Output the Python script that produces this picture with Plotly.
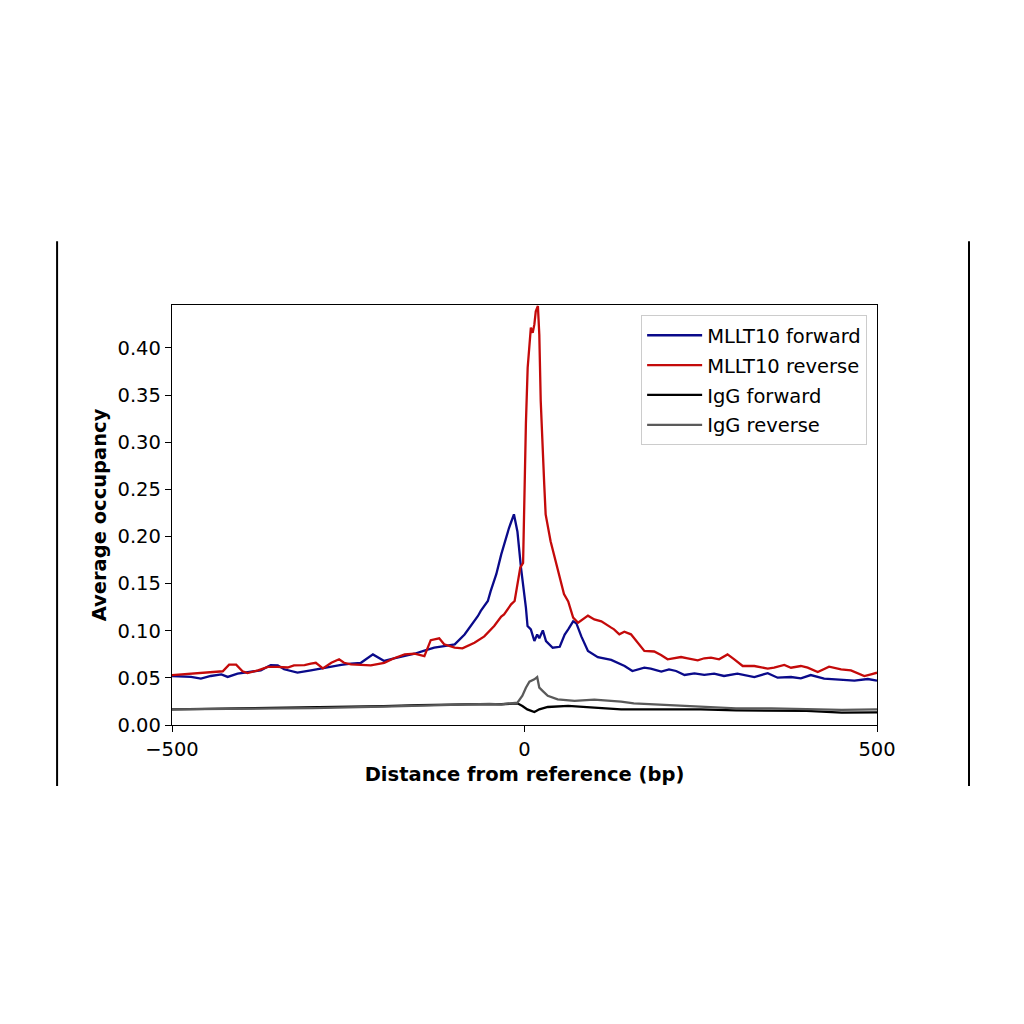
import plotly.graph_objects as go

#-------------------------------------------------------------------------------
# values (distance in bp, average occupancy)
fwd_x = [-500, -473, -459, -445, -430, -421, -407, -388, -374, -360, -350, -341,
         -322, -303, -289, -275, -260, -246, -232, -215, -199, -185, -170, -156,
         -142, -128, -114, -99, -85, -76, -66, -62, -52, -48, -40, -33, -22, -15,
         -10, -5, -2.6, 0, 2, 4.3, 9, 14, 18, 21, 26, 30.5, 40, 50, 57, 62, 69,
         73.5, 80.6, 90, 104, 123, 133, 142, 153, 170, 179, 194, 205, 215, 227,
         241, 255, 269, 283, 302, 326, 345, 359, 378, 392, 406, 425, 449, 468,
         487, 500]
fwd_y = [0.052, 0.051, 0.0493, 0.052, 0.0537, 0.051, 0.0544, 0.0566, 0.058, 0.0636,
         0.0633, 0.0591, 0.0555, 0.058, 0.0601, 0.0615, 0.0637, 0.065, 0.066, 0.0749,
         0.068, 0.0708, 0.073, 0.0756, 0.079, 0.082, 0.0838, 0.0856, 0.096, 0.105,
         0.1157, 0.121, 0.1316, 0.142, 0.16, 0.181, 0.209, 0.2235, 0.205, 0.167,
         0.153, 0.1386, 0.1245, 0.105, 0.1015, 0.0891, 0.096, 0.092, 0.1004, 0.089,
         0.082, 0.083, 0.096, 0.1015, 0.110, 0.108, 0.094, 0.0785, 0.072, 0.069,
         0.066, 0.0626, 0.0573, 0.0608, 0.0598, 0.0566, 0.059, 0.0573, 0.0531, 0.0548,
         0.0531, 0.0545, 0.052, 0.0545, 0.0509, 0.055, 0.0502, 0.0509, 0.0495, 0.053,
         0.0492, 0.0477, 0.047, 0.0488, 0.047]

rev_x = [-500, -473, -445, -428, -419, -409, -400, -393, -378, -364, -350, -336,
         -327, -312, -303, -296, -286, -274, -263, -256, -246, -232, -218, -199,
         -185, -170, -156, -142, -133, -121, -114, -99, -88, -71, -57, -43, -33,
         -29, -19, -14, -10, -6, -2, 0, 2, 4.5, 9, 11.6, 14, 16, 19, 21, 23, 28,
         30, 37, 42, 52, 56, 62, 69, 76, 90, 99, 109, 123, 127, 134.5, 141.6, 151,
         160.6, 170, 184, 193.6, 203, 212.5, 222, 231.5, 245.7, 255, 264.5, 276,
         288, 297.6, 309.5, 326, 345, 354, 368.5, 378, 392, 401.7, 416, 432, 449,
         463, 482, 491.5, 500]
rev_y = [0.053, 0.0544, 0.056, 0.057, 0.064, 0.064, 0.057, 0.055, 0.058, 0.0616,
         0.0616, 0.061, 0.0633, 0.0636, 0.065, 0.066, 0.0601, 0.0661, 0.0697, 0.066,
         0.0644, 0.0637, 0.0633, 0.066, 0.0708, 0.0749, 0.0756, 0.073, 0.090, 0.092,
         0.0856, 0.082, 0.0813, 0.0873, 0.094, 0.105, 0.115, 0.1174, 0.128, 0.1316,
         0.149, 0.167, 0.172, 0.25, 0.32, 0.379, 0.4216, 0.416, 0.425, 0.439, 0.4446,
         0.414, 0.344, 0.255, 0.2235, 0.195, 0.181, 0.153, 0.139, 0.131, 0.114,
         0.1085, 0.116, 0.112, 0.110, 0.1033, 0.1015, 0.0962, 0.099, 0.0962, 0.0874,
         0.0786, 0.078, 0.0743, 0.0697, 0.0708, 0.0721, 0.0708, 0.0686, 0.0708,
         0.0714, 0.0697, 0.0749, 0.0697, 0.0626, 0.0626, 0.0598, 0.0608, 0.0637,
         0.0608, 0.0626, 0.0608, 0.0562, 0.0619, 0.0591, 0.058, 0.052, 0.0538, 0.0555]

igg_fwd_x = [-500, -400, -300, -250, -200, -150, -100, -60, -33, -10, -3, 4, 14,
             21, 33, 62, 99, 137, 200, 250, 300, 350, 400, 450, 500]
igg_fwd_y = [0.0166, 0.0175, 0.0185, 0.0195, 0.020, 0.021, 0.022, 0.0222, 0.022,
             0.023, 0.0202, 0.0166, 0.0138, 0.0166, 0.0191, 0.0202, 0.0184, 0.0166,
             0.0166, 0.0166, 0.0156, 0.0149, 0.0149, 0.0131, 0.0135]

igg_rev_x = [-500, -400, -300, -200, -100, -50, -33, -10, -3, 2, 7, 14, 18, 21, 26,
             33, 47, 71, 99, 137, 155, 200, 250, 300, 350, 400, 450, 500]
igg_rev_y = [0.0166, 0.017, 0.018, 0.0195, 0.021, 0.0225, 0.0219, 0.0237, 0.031,
             0.0396, 0.046, 0.0485, 0.0509, 0.0396, 0.036, 0.031, 0.0272, 0.0255,
             0.0269, 0.0248, 0.023, 0.0213, 0.0191, 0.0177, 0.0177, 0.0166, 0.016,
             0.0166]

x_ticks = [-500, 0, 500]
x_ticktext = ['\u2212500', '0', '500']
y_ticks = [0.0, 0.05, 0.10, 0.15, 0.20, 0.25, 0.30, 0.35, 0.40]

#-------------------------------------------------------------------------------
fig = go.Figure()
fig.add_trace(go.Scatter(x=fwd_x, y=fwd_y, mode='lines', name='MLLT10 forward',
                         legendgroup='a', line=dict(color='#0a0a8a', width=2.3)))
fig.add_trace(go.Scatter(x=rev_x, y=rev_y, mode='lines', name='MLLT10 reverse',
                         legendgroup='b', line=dict(color='#c40a0a', width=2.3)))
fig.add_trace(go.Scatter(x=igg_fwd_x, y=igg_fwd_y, mode='lines', name='IgG forward',
                         legendgroup='c', line=dict(color='#000000', width=2.3)))
fig.add_trace(go.Scatter(x=igg_rev_x, y=igg_rev_y, mode='lines', name='IgG reverse',
                         legendgroup='d', line=dict(color='#5a5a5a', width=2.3)))

axis_style = dict(showline=True, linecolor='black', linewidth=1.3, mirror=True,
                  ticks='outside', ticklen=6, tickwidth=1.2, tickcolor='black',
                  showgrid=False, zeroline=False,
                  tickfont=dict(family='DejaVu Sans', size=19.5, color='black'))

# page body adds ~7px, so the figure is drawn a bit smaller and shifted back
fig.update_layout(
    width=1008, height=1008,
    paper_bgcolor='white', plot_bgcolor='white',
    margin=dict(l=164, r=139, t=297, b=291),
    font=dict(family='DejaVu Sans', color='black'),
    xaxis=dict(range=[-500, 500], tickvals=x_ticks, ticktext=x_ticktext,
               title=dict(text='<b>Distance from reference (bp)</b>',
                          font=dict(size=19.5), standoff=7),
               **axis_style),
    yaxis=dict(range=[0, 0.4456], tickvals=y_ticks, tickformat='.2f',
               title=dict(text='<b>Average occupancy</b>',
                          font=dict(size=19.5), standoff=5),
               **axis_style),
    legend=dict(x=0.986, y=0.976, xanchor='right', yanchor='top',
                bgcolor='rgba(255,255,255,0.8)', bordercolor='#cccccc',
                borderwidth=1, font=dict(size=19.5), traceorder='grouped',
                tracegroupgap=1.5, itemwidth=55),
    showlegend=True,
    # the two vertical frame lines either side of the figure
    shapes=[dict(type='line', xref='paper', yref='paper', x0=-0.163, x1=-0.163,
                 y0=-0.145, y1=1.152, line=dict(color='black', width=2)),
            dict(type='line', xref='paper', yref='paper', x0=1.1305, x1=1.1305,
                 y0=-0.145, y1=1.152, line=dict(color='black', width=2))],
)
#-------------------------------------------------------------------------------
fig.write_html("out.html")
